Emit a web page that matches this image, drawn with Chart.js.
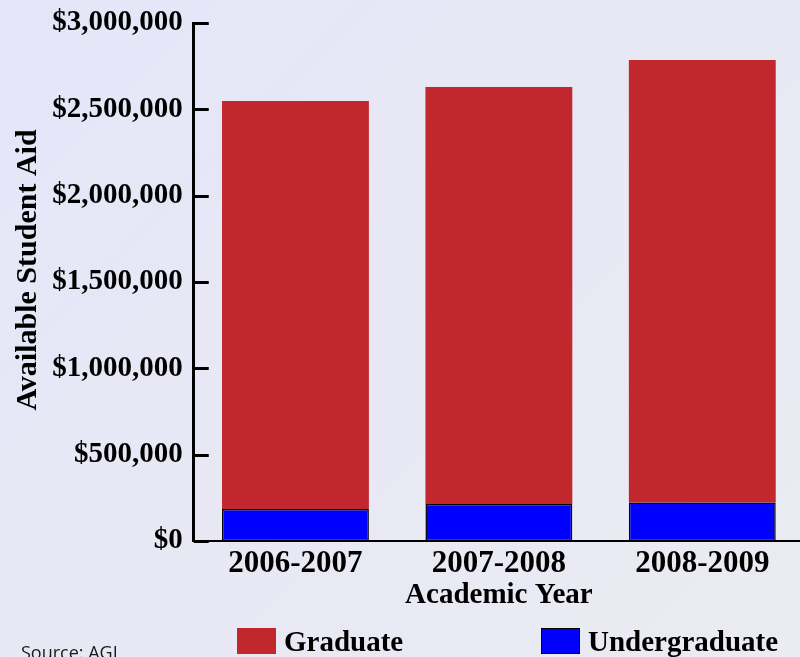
<!DOCTYPE html>
<html>
<head>
<meta charset="utf-8">
<script src="https://cdn.jsdelivr.net/npm/chart.js@4.4.1/dist/chart.umd.min.js"></script>
<style>
html, body { margin: 0; padding: 0; width: 800px; height: 657px; overflow: hidden; }
body {
    position: relative;
    background: linear-gradient(135deg, #e4e6f8 0%, #e8e8f5 45%, #ebebf2 100%);
    font-family: 'Liberation Serif', serif;
}
#wrap { position: absolute; left: 0; top: 0; width: 805px; height: 657px; }
.item { position: absolute; top: 628px; height: 26px; display: flex; align-items: center; font-weight: bold; font-size: 29px; line-height: 26px; color: #000; }
.item .box { width: 39px; height: 26px; margin-right: 8px; box-sizing: border-box; }
#item0 { left: 237px; }
#item1 { left: 541px; }
#source { position: absolute; left: 21px; top: 640px; font-family: 'Open Sans', sans-serif; font-size: 18px; color: #1a1a1a; }
</style>
</head>
<body>
<div id="wrap"><canvas id="chart-aid" width="805" height="657"></canvas></div>
<div id="legend"></div>
<div id="source">Source: AGI</div>
<script>
var years = ['2006-2007', '2007-2008', '2008-2009'];
var undergraduate = [185000, 214000, 223000];
var graduate = [2363000, 2415000, 2562000];
var legendOrder = [1, 0];   // Graduate first, like the original

var serif = 'Liberation Serif';
var yTitle = 'Available Student Aid';

// tick marks on the inside of the y axis + the y title (sits a bit above centre)
var axisExtras = {
    id: 'axisExtras',
    afterDraw: function(chart) {
        var y = chart.scales.y;
        var ctx = chart.ctx;
        var x0 = chart.chartArea.left;
        ctx.save();
        ctx.strokeStyle = '#000';
        ctx.lineWidth = 3;
        y.ticks.forEach(function(t, i) {
            var py = Math.round(y.getPixelForTick(i)) + 0.5;
            ctx.beginPath();
            ctx.moveTo(x0, py);
            ctx.lineTo(x0 + 15, py);
            ctx.stroke();
        });
        ctx.translate(28, (y.top + y.bottom) / 2 - 12);
        ctx.rotate(-Math.PI / 2);
        ctx.font = 'bold 30px ' + serif;
        ctx.fillStyle = '#000';
        ctx.textAlign = 'center';
        ctx.textBaseline = 'middle';
        ctx.fillText(yTitle, 0, 0);
        ctx.restore();
    }
};

var config = {
    type: 'bar',
    data: {
        labels: years,
        datasets: [{
            label: 'Undergraduate',
            data: undergraduate,
            backgroundColor: '#0000ff',
            borderColor: '#000',
            borderWidth: 1.5,
            borderSkipped: false,
            barPercentage: 0.722,
            categoryPercentage: 1
        }, {
            label: 'Graduate',
            data: graduate,
            backgroundColor: '#c1272d',
            borderWidth: 0,
            barPercentage: 0.722,
            categoryPercentage: 1
        }]
    },
    options: {
        responsive: false,
        animation: false,
        layout: { padding: { top: 23, right: 1, bottom: 44, left: 0 } },
        plugins: {
            legend: { display: false },
            tooltip: { enabled: false }
        },
        scales: {
            x: {
                stacked: true,
                grid: { display: false, drawTicks: false },
                border: { display: true, color: '#000', width: 2 },
                ticks: { color: '#000', padding: 4, font: { family: serif, size: 31, weight: 'bold' } },
                title: {
                    display: true, text: 'Academic Year', color: '#000',
                    font: { family: serif, size: 29, weight: 'bold' },
                    padding: { top: 0, bottom: 0 }
                },
                afterFit: function(s) { s.height = 72; }
            },
            y: {
                stacked: true,
                min: 0,
                max: 3000000,
                grid: { display: false, drawTicks: false },
                border: { display: true, color: '#000', width: 3 },
                ticks: {
                    stepSize: 500000,
                    color: '#000',
                    padding: 11,
                    // small lineHeight so the label overhang doesn't push the plot top down
                    font: { family: serif, size: 29, weight: 'bold', lineHeight: 0.3 },
                    callback: function(v) { return '$' + v.toLocaleString('en-US'); }
                },
                afterFit: function(s) { s.width = 193.75; }
            }
        }
    },
    plugins: [axisExtras]
};

var ctx = document.getElementById('chart-aid').getContext('2d');
var chart = new Chart(ctx, config);

// html legend built from the datasets
var legend = document.getElementById('legend');
legendOrder.forEach(function(di, n) {
    var ds = chart.data.datasets[di];
    var item = document.createElement('div');
    item.className = 'item';
    item.id = 'item' + n;
    var box = document.createElement('span');
    box.className = 'box';
    box.style.background = ds.backgroundColor;
    if (ds.borderWidth) box.style.border = ds.borderWidth + 'px solid ' + ds.borderColor;
    item.appendChild(box);
    item.appendChild(document.createTextNode(ds.label));
    legend.appendChild(item);
});
</script>
</body>
</html>
